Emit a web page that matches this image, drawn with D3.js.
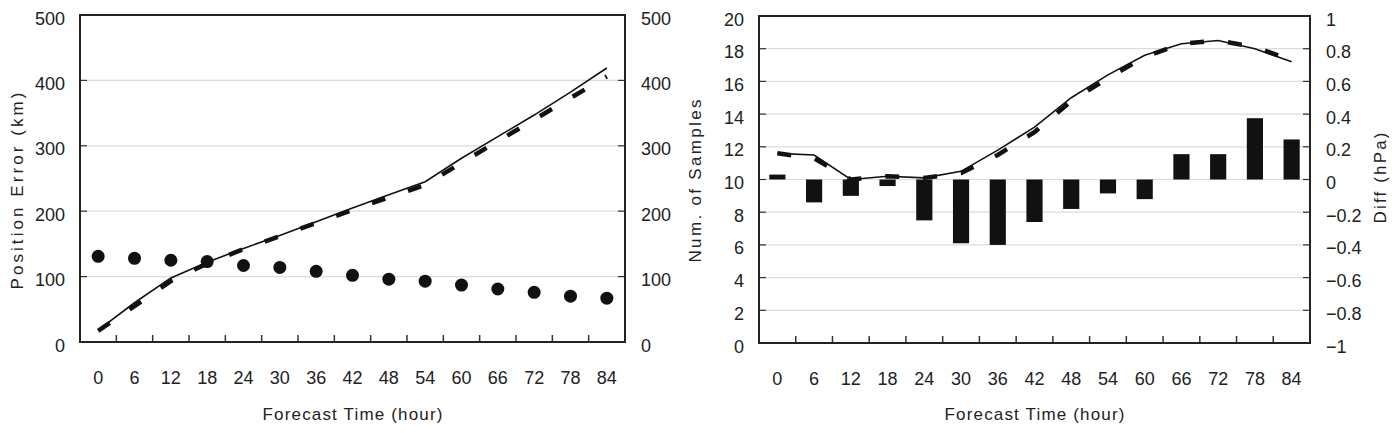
<!DOCTYPE html>
<html>
<head>
<meta charset="utf-8">
<script src="https://cdn.jsdelivr.net/npm/d3@7"></script>
<style>
  body { margin: 0; background: #fff; }
  text { font-family: "Liberation Sans", Arial, sans-serif; fill: #222; }
</style>
</head>
<body>
<div id="chart"></div>
<script>
// forecast hours (categories)
var hours = [0, 6, 12, 18, 24, 30, 36, 42, 48, 54, 60, 66, 72, 78, 84];

// left panel: position error (km) and number of samples
var posErrSolid  = [18, 60, 98, 122, 143, 163, 184, 205, 225, 245, 281, 314, 347, 382, 419];
var posErrDashed = [17, 55, 93, 120, 142, 162, 182, 202, 221, 240, 274, 307, 340, 373, 406];
var numSamples   = [131, 128, 125, 123, 117, 114, 108, 102, 96, 93, 87, 81, 76, 70, 67];

// right panel: lines on left axis, bars (diff, hPa) on right axis
var rightSolid  = [11.6, 11.5, 10.0, 10.2, 10.1, 10.5, 11.8, 13.2, 15.0, 16.4, 17.6, 18.3, 18.5, 18.0, 17.2];
var rightDashed = [11.6, 11.3, 10.0, 10.2, 10.1, 10.4, 11.5, 12.9, 14.8, 16.2, 17.5, 18.3, 18.5, 18.1, 17.3];
var diffHpa     = [0.03, -0.14, -0.10, -0.04, -0.25, -0.39, -0.40, -0.26, -0.18, -0.085, -0.12, 0.155, 0.155, 0.375, 0.245];

// tick values
var leftTicksA  = [0, 100, 200, 300, 400, 500];
var leftTicksB  = [0, 100, 200, 300, 400, 500];
var rightTicksA = [0, 2, 4, 6, 8, 10, 12, 14, 16, 18, 20];
var rightTicksB = [-1, -0.8, -0.6, -0.4, -0.2, 0, 0.2, 0.4, 0.6, 0.8, 1];

var W = 1392, H = 435;

var svg = d3.select("#chart").append("svg")
    .attr("width", W)
    .attr("height", H);

svg.append("rect").attr("width", W).attr("height", H).attr("fill", "#fff");

function fmtSigned(d) {
    var s = d3.format("~g")(Math.abs(d));
    return d < 0 ? "\u2212" + s : s;
}

// draws one framed panel with two y axes, returns scales
function drawPanel(p) {
    var g = svg.append("g");

    var x = d3.scaleBand().domain(hours).range([p.x0, p.x1]);
    var yL = d3.scaleLinear().domain(p.yLDomain).range([p.y1, p.y0]);
    var yR = d3.scaleLinear().domain(p.yRDomain).range([p.y1, p.y0]);

    // gridlines from left axis ticks
    g.selectAll(".grid").data(p.yLTicks.slice(1, -1))
        .enter().append("line")
        .attr("x1", p.x0).attr("x2", p.x1)
        .attr("y1", d => yL(d)).attr("y2", d => yL(d))
        .attr("stroke", "#dcdcdc").attr("stroke-width", 1.2);

    // inward ticks on both y axes
    g.selectAll(".tl").data(p.yLTicks)
        .enter().append("line")
        .attr("x1", p.x0).attr("x2", p.x0 + 7)
        .attr("y1", d => yL(d)).attr("y2", d => yL(d))
        .attr("stroke", "#333").attr("stroke-width", 1.2);
    g.selectAll(".tr").data(p.yRTicks)
        .enter().append("line")
        .attr("x1", p.x1 - 7).attr("x2", p.x1)
        .attr("y1", d => yR(d)).attr("y2", d => yR(d))
        .attr("stroke", "#333").attr("stroke-width", 1.2);

    // x ticks between categories, pointing up
    g.selectAll(".tx").data(hours.slice(1))
        .enter().append("line")
        .attr("x1", d => x(d)).attr("x2", d => x(d))
        .attr("y1", p.y1).attr("y2", p.y1 - 7)
        .attr("stroke", "#333").attr("stroke-width", 1.5);

    // tick labels
    g.selectAll(".lx").data(hours)
        .enter().append("text")
        .attr("x", d => x(d) + x.bandwidth() / 2)
        .attr("y", p.y1 + 42)
        .attr("text-anchor", "middle")
        .attr("font-size", 18)
        .text(d => d);
    g.selectAll(".ll").data(p.yLTicks)
        .enter().append("text")
        .attr("x", p.x0 - 15)
        .attr("y", d => yL(d) + 9.5)
        .attr("text-anchor", "end")
        .attr("font-size", 18)
        .text(d => d);
    g.selectAll(".lr").data(p.yRTicks)
        .enter().append("text")
        .attr("x", p.x1 + 16)
        .attr("y", d => yR(d) + 9.5)
        .attr("text-anchor", "start")
        .attr("font-size", 18)
        .text(p.rFmt);

    // x title
    g.append("text")
        .attr("x", (p.x0 + p.x1) / 2)
        .attr("y", 420)
        .attr("text-anchor", "middle")
        .attr("font-size", 17)
        .attr("textLength", 180).attr("lengthAdjust", "spacing")
        .text("Forecast Time (hour)");

    return { g: g, x: x, yL: yL, yR: yR, frame: function () {
        g.append("rect")
            .attr("x", p.x0).attr("y", p.y0)
            .attr("width", p.x1 - p.x0).attr("height", p.y1 - p.y0)
            .attr("fill", "none").attr("stroke", "#222").attr("stroke-width", 2);
    } };
}

function yTitle(txt, cx, cy, len) {
    svg.append("text")
        .attr("transform", "translate(" + cx + "," + cy + ") rotate(-90)")
        .attr("text-anchor", "middle")
        .attr("font-size", 17)
        .attr("textLength", len).attr("lengthAdjust", "spacing")
        .text(txt);
}

// ---------- left panel ----------
var L = drawPanel({
    x0: 80, x1: 625, y0: 15, y1: 342,
    yLDomain: [0, 500], yRDomain: [0, 500],
    yLTicks: leftTicksA, yRTicks: leftTicksB,
    rFmt: d => d
});
var cx = d => L.x(d) + L.x.bandwidth() / 2;

L.g.append("path")
    .datum(hours)
    .attr("fill", "none").attr("stroke", "#111").attr("stroke-width", 1.6)
    .attr("d", d3.line().x(cx).y((d, i) => L.yL(posErrSolid[i])));
L.g.append("path")
    .datum(hours)
    .attr("fill", "none").attr("stroke", "#111").attr("stroke-width", 4.5)
    .attr("stroke-dasharray", "14,24")
    .attr("d", d3.line().x(cx).y((d, i) => L.yL(posErrDashed[i])));
L.g.selectAll(".dot").data(hours)
    .enter().append("circle")
    .attr("cx", cx)
    .attr("cy", (d, i) => L.yR(numSamples[i]))
    .attr("r", 6.5)
    .attr("fill", "#111");
L.frame();

yTitle("Position Error (km)", 23, 191, 197);
yTitle("Num. of Samples", 701, 181, 163);

// ---------- right panel ----------
var R = drawPanel({
    x0: 759, x1: 1310, y0: 16, y1: 343,
    yLDomain: [0, 20], yRDomain: [-1, 1],
    yLTicks: rightTicksA, yRTicks: rightTicksB,
    rFmt: fmtSigned
});
var rx = d => R.x(d) + R.x.bandwidth() / 2;
var barW = R.x.bandwidth() * 0.44;

R.g.selectAll(".bar").data(hours)
    .enter().append("rect")
    .attr("x", d => rx(d) - barW / 2)
    .attr("width", barW)
    .attr("y", (d, i) => R.yR(Math.max(0, diffHpa[i])))
    .attr("height", (d, i) => Math.abs(R.yR(diffHpa[i]) - R.yR(0)))
    .attr("fill", "#111");
R.g.append("path")
    .datum(hours)
    .attr("fill", "none").attr("stroke", "#111").attr("stroke-width", 1.6)
    .attr("d", d3.line().x(rx).y((d, i) => R.yL(rightSolid[i])));
R.g.append("path")
    .datum(hours)
    .attr("fill", "none").attr("stroke", "#111").attr("stroke-width", 4.5)
    .attr("stroke-dasharray", "14,24")
    .attr("d", d3.line().x(rx).y((d, i) => R.yL(rightDashed[i])));
R.frame();

yTitle("Diff (hPa)", 1386, 178, 91);
</script>
</body>
</html>
